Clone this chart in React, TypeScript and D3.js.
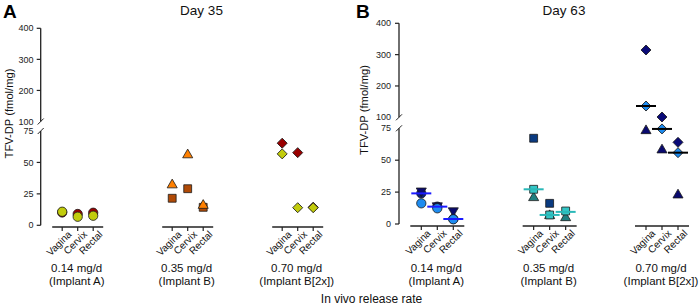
import React from 'react';
import * as d3 from 'd3';

// ---------- labels ----------
const sites = ['Vagina', 'Cervix', 'Rectal'];
const groupRates = ['0.14 mg/d', '0.35 mg/d', '0.70 mg/d'];
const groupImplants = ['(Implant A)', '(Implant B)', '(Implant B[2x])'];
const yTicks = [0, 25, 50, 75, 100, 200, 300, 400];
const panelTitles = ['Day 35', 'Day 63'];
const panelLetters = ['A', 'B'];

// ---------- Day 35 values [Vagina, Cervix, Rectal] ----------
const d35_g1_red = [10.2, 9.0, 10.0];
const d35_g1_yellow = [10.8, 6.8, 7.6];
const d35_g2_square = [21.5, 29.1, 14.3];
const d35_g2_triangle = [32.1, 56.0, 15.8];
const d35_g3_red = [65.3, 57.8, 14.4];
const d35_g3_yellow = [56.8, 14.0, 14.0];

// ---------- Day 63 values [Vagina, Cervix, Rectal] ----------
const d63_g1_navyCircle = [24.0, 13.6, 3.9];
const d63_g1_navyTri = [25.9, 14.3, 10.4];
const d63_g1_blueCircle = [16.2, 12.3, 3.7];
const d63_g1_median = [24.0, 13.6, 3.9];
const d63_g2_navySquare = [67.2, 16.2, null];
const d63_g2_tealTri = [20.6, 6.5, 4.9];
const d63_g2_tealSquare = [27.2, 7.1, 10.2];
const d63_g2_median = [27.2, 7.1, 9.5];
const d63_g3_navyDiamond = [314.8, 101.0, 64.0];
const d63_g3_navyTri = [73.1, 58.0, 22.7];
const d63_g3_blueDiamond = [136.0, 74.5, 55.9];
const d63_g3_median = [136.0, 74.5, 55.9];

type Series = { values: (number | null)[]; group: number; shape: string; fill: string };
type Median = { values: number[]; group: number; color: string };

const panelASeries: Series[] = [
  { values: d35_g1_red, group: 0, shape: 'circle', fill: '#990000' },
  { values: d35_g1_yellow, group: 0, shape: 'circle', fill: '#c2cc0c' },
  { values: d35_g2_square, group: 1, shape: 'square', fill: '#b04a06' },
  { values: d35_g2_triangle, group: 1, shape: 'triangle', fill: '#ff8000' },
  { values: d35_g3_red, group: 2, shape: 'diamond', fill: '#990000' },
  { values: d35_g3_yellow, group: 2, shape: 'diamond', fill: '#c2cc0c' },
];
const panelBSeries: Series[] = [
  { values: d63_g1_navyCircle, group: 0, shape: 'circle', fill: '#0a1f80' },
  { values: d63_g1_navyTri, group: 0, shape: 'triangleDown', fill: '#0a0a6e' },
  { values: d63_g1_blueCircle, group: 0, shape: 'circle', fill: '#1e8cf0' },
  { values: d63_g2_navySquare, group: 1, shape: 'square', fill: '#0a3a80' },
  { values: d63_g2_tealTri, group: 1, shape: 'triangle', fill: '#1f7f80' },
  { values: d63_g2_tealSquare, group: 1, shape: 'square', fill: '#33c6c6' },
  { values: d63_g3_navyDiamond, group: 2, shape: 'diamond', fill: '#0a0a78' },
  { values: d63_g3_navyTri, group: 2, shape: 'triangle', fill: '#0a0a6e' },
  { values: d63_g3_blueDiamond, group: 2, shape: 'diamond', fill: '#1e8cf0' },
];
const panelBMedians: Median[] = [
  { values: d63_g1_median, group: 0, color: '#1a1aff' },
  { values: d63_g2_median, group: 1, color: '#2ab8b8' },
  { values: d63_g3_median, group: 2, color: '#000000' },
];

const FONT = '"Liberation Sans", Arial, Helvetica, sans-serif';

type Layout = {
  axisX: number;
  yRange: number[];
  groupRange: [number, number];
  siteHalf: number;
  baseY: number;
  lineExt: number;
  titleX: number;
  letterX: number;
  yTitleX: number;
  yTitleY: number;
  labelEnd: number;
};

const layoutA: Layout = {
  axisX: 40.7, yRange: [225.3, 131, 121.5, 28.3], groupRange: [77.7, 297.7], siteHalf: 15.5,
  baseY: 227, lineExt: 10, titleX: 201.5, letterX: 3, yTitleX: 12.5, yTitleY: 113.5, labelEnd: 33.5,
};
const layoutB: Layout = {
  axisX: 399, yRange: [224, 128.3, 117.3, 23.3], groupRange: [437.3, 662], siteHalf: 16,
  baseY: 226, lineExt: 11, titleX: 564, letterX: 356, yTitleX: 368, yTitleY: 110, labelEnd: 391,
};

const symbolPath = (shape: string) => {
  if (shape === 'circle') return d3.symbol().type(d3.symbolCircle).size(68)() as string;
  if (shape === 'square') return d3.symbol().type(d3.symbolSquare).size(62)() as string;
  if (shape === 'diamond') return d3.symbol().type(d3.symbolSquare).size(50)() as string;
  return d3.symbol().type(d3.symbolTriangle).size(44)() as string;
};
const symbolRot = (shape: string) => (shape === 'diamond' ? 45 : shape === 'triangleDown' ? 180 : 0);

function Panel({ idx, layout, series, medians }: { idx: number; layout: Layout; series: Series[]; medians: Median[] }) {
  const y = d3.scaleLinear().domain([0, 75, 100, 400]).range(layout.yRange);
  const gx = d3.scalePoint<number>().domain([0, 1, 2]).range(layout.groupRange);
  const sx = d3.scalePoint<string>().domain(sites).range([-layout.siteHalf, layout.siteHalf]);
  const ax = layout.axisX;
  const axisColor = '#222';
  const brk = 3;
  return (
    <g>
      <text x={layout.letterX} y={18} fontSize={19} fontWeight="bold" fontFamily={FONT} fill="#000">
        {panelLetters[idx]}
      </text>
      <text x={layout.titleX} y={15} fontSize={13.5} textAnchor="middle" fontFamily={FONT} fill="#111">
        {panelTitles[idx]}
      </text>
      <text
        transform={`translate(${layout.yTitleX},${layout.yTitleY}) rotate(-90)`}
        fontSize={11.2}
        textAnchor="middle"
        fontFamily={FONT}
        fill="#111"
      >
        TFV-DP (fmol/mg)
      </text>
      {/* y axis, broken */}
      <line x1={ax} x2={ax} y1={y(400)} y2={y(100)} stroke={axisColor} strokeWidth={1.3} />
      <line x1={ax} x2={ax} y1={y(75)} y2={y(0)} stroke={axisColor} strokeWidth={1.3} />
      <line x1={ax - brk} x2={ax + brk} y1={y(100) + brk} y2={y(100) - brk} stroke={axisColor} strokeWidth={1} />
      <line x1={ax - brk} x2={ax + brk} y1={y(75) + brk} y2={y(75) - brk} stroke={axisColor} strokeWidth={1} />
      {yTicks.map((t) => (
        <g key={t}>
          {t !== 100 && t !== 75 && (
            <line x1={ax - 4} x2={ax} y1={y(t)} y2={y(t)} stroke={axisColor} strokeWidth={1.2} />
          )}
          <text
            x={layout.labelEnd}
            y={y(t)}
            dy="0.35em"
            fontSize={9}
            textAnchor="end"
            fontFamily={FONT}
            fill="#222"
          >
            {t}
          </text>
        </g>
      ))}
      {/* x axis per group */}
      {[0, 1, 2].map((g) => {
        const cx = gx(g) as number;
        return (
          <g key={g}>
            <line
              x1={cx - layout.siteHalf - layout.lineExt}
              x2={cx + layout.siteHalf + layout.lineExt}
              y1={layout.baseY}
              y2={layout.baseY}
              stroke={axisColor}
              strokeWidth={1.3}
            />
            {sites.map((s) => {
              const tx = cx + (sx(s) as number);
              return (
                <g key={s}>
                  <line x1={tx} x2={tx} y1={layout.baseY} y2={layout.baseY + 4} stroke={axisColor} strokeWidth={1.2} />
                  <text
                    transform={`translate(${tx + 10},${layout.baseY + 8}) rotate(-45)`}
                    fontSize={10}
                    textAnchor="end"
                    fontFamily={FONT}
                    fill="#111"
                  >
                    {s}
                  </text>
                </g>
              );
            })}
            <text x={cx - 1} y={271.5} fontSize={11.5} textAnchor="middle" fontFamily={FONT} fill="#111">
              {groupRates[g]}
            </text>
            <text x={cx - 1} y={285} fontSize={11.5} textAnchor="middle" fontFamily={FONT} fill="#111">
              {groupImplants[g]}
            </text>
          </g>
        );
      })}
      {/* points */}
      {series.map((se, i) =>
        se.values.map((v, j) =>
          v == null ? null : (
            <path
              key={`${i}-${j}`}
              d={symbolPath(se.shape)}
              transform={`translate(${(gx(se.group) as number) + (sx(sites[j]) as number)},${y(v)}) rotate(${symbolRot(se.shape)})`}
              fill={se.fill}
              stroke="#1a1a1a"
              strokeWidth={0.8}
            />
          )
        )
      )}
      {/* medians */}
      {medians.map((m, i) =>
        m.values.map((v, j) => {
          const tx = (gx(m.group) as number) + (sx(sites[j]) as number);
          return (
            <line key={`m${i}-${j}`} x1={tx - 10} x2={tx + 10} y1={y(v)} y2={y(v)} stroke={m.color} strokeWidth={2} />
          );
        })
      )}
    </g>
  );
}

export default function App() {
  return (
    <svg
      width={699}
      height={305}
      style={{ position: 'absolute', left: 0, top: 0, background: '#fff' }}
      fontFamily={FONT}
    >
      <rect width={699} height={305} fill="#fff" />
      <Panel idx={0} layout={layoutA} series={panelASeries} medians={[]} />
      <Panel idx={1} layout={layoutB} series={panelBSeries} medians={panelBMedians} />
      <text x={371.5} y={303} fontSize={12} textAnchor="middle" fontFamily={FONT} fill="#111">
        In vivo release rate
      </text>
    </svg>
  );
}
